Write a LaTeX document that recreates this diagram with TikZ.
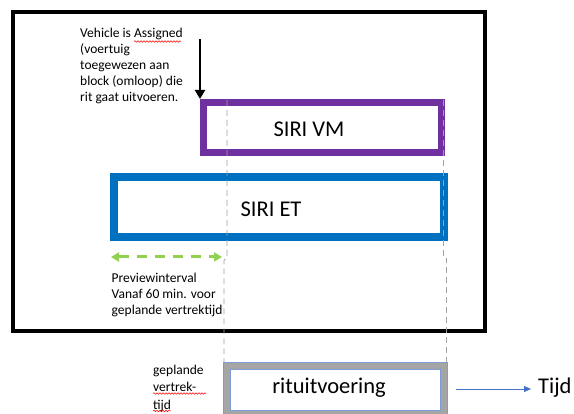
\documentclass[tikz,border=0pt]{standalone}
\usepackage{fontspec}
\setmainfont{Carlito}
\usetikzlibrary{arrows.meta,decorations.pathmorphing,calc}
\definecolor{vmpurple}{HTML}{7030A0}
\definecolor{etblue}{HTML}{0070C0}
\definecolor{rgray}{HTML}{A5A5A5}
\definecolor{guide}{HTML}{A0A0A0}
\definecolor{pgreen}{HTML}{92D050}
\definecolor{tblue}{HTML}{4472C4}
\tikzset{
  box/.style={draw, inner sep=0pt, fill=white},
  bigtext/.style={font=\fontsize{22.5}{26}\selectfont, inner sep=0pt},
  smalltext/.style={font=\fontsize{13.5}{16}\selectfont, align=left, inner sep=0pt, anchor=north west},
  guideline/.style={draw=guide, line width=0.8pt, dash pattern=on 6pt off 4pt},
  spell/.style={draw=red, line width=0.5pt, decorate, decoration={snake, amplitude=0.8pt, segment length=3pt}}
}
\begin{document}
\begin{tikzpicture}[x=1pt,y=-1pt]
\useasboundingbox (0,0) rectangle (574,414);
% outer frame
\node[draw=black, line width=4pt, inner sep=0pt, minimum width=472.5pt, minimum height=319pt] (frame) at (248.75,171.5) {};
% boxes
\node[box, draw=vmpurple, line width=7pt, minimum width=238pt, minimum height=50pt] (vm) at (322.5,127.5) {};
\node[box, draw=etblue, line width=8pt, minimum width=330pt, minimum height=60pt] (et) at (279,207) {};
\node[box, draw=rgray, line width=7pt, minimum width=217pt, minimum height=48pt] (rit) at (335,390) {};
\draw[tblue!70, line width=0.4pt] (rit.north west) rectangle (rit.south east);
\draw[tblue!70, line width=0.4pt] ($(rit.north west)+(7,7)$) rectangle ($(rit.south east)+(-7,-7)$);
% labels in boxes
\node[bigtext] (vmtext) at (309,129) {SIRI VM};
\node[bigtext] (ettext) at (271,209) {SIRI ET};
\node[bigtext] (rittext) at (329,388) {rituitvoering};
% guide lines
\coordinate (g1a) at (227,100);
\coordinate (g1b) at (227,258);
\coordinate (g1c) at (224,260);
\coordinate (g1d) at (224,363);
\coordinate (g2a) at (443.5,100);
\coordinate (g2b) at (443.5,258);
\coordinate (g2c) at (446,258);
\coordinate (g2d) at (446,363);
\draw[guideline] (g1a) -- (g1b) -- (g1c) -- (g1d);
\draw[guideline] (g2a) -- (g2b) -- (g2c) -- (g2d);
% vehicle assigned
\node[smalltext] (assigned) at (80,27.5) {Vehicle is Assigned\\(voertuig\\toegewezen aan\\block (omloop) die\\rit gaat uitvoeren.};
\coordinate (arrtop) at (200,39);
\coordinate (arrtip) at (200,99);
\draw[line width=2.8pt, -{Triangle[width=10pt,length=9pt]}] (arrtop) -- (arrtip);
% preview interval
\coordinate (pvl) at (111,257);
\coordinate (pvr) at (222,257);
\draw[pgreen, line width=3pt, dash pattern=on 10pt off 8pt, {Triangle[width=9pt,length=8pt]}-{Triangle[width=9pt,length=8pt]}] (pvl) -- (pvr);
\node[smalltext] (preview) at (111.5,273) {Previewinterval\\Vanaf 60 min. voor\\geplande vertrektijd};
% geplande vertrektijd
\node[smalltext, font=\fontsize{13.5}{17.5}\selectfont] (gepl) at (153,364.5) {geplande\\vertrek-\\tijd};
% time arrow
\node[bigtext, anchor=west] (tijd) at (538,388) {Tijd};
\coordinate (tstart) at (456,389);
\coordinate (tend) at (531,389);
\draw[tblue, line width=0.8pt, -{Triangle[width=6pt,length=7pt]}] (tstart) -- (tend);
% spell-check underlines
\draw[spell] (134,41.5) -- (181,41.5);
\draw[spell] (153,393.5) -- (206,393.5);
\draw[spell] (153,411) -- (171,411);
\end{tikzpicture}
\end{document}
